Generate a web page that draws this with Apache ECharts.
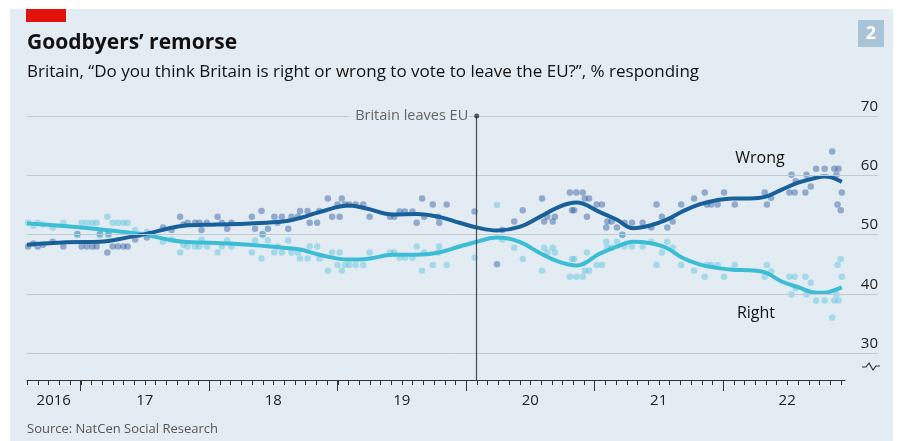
<!DOCTYPE html>
<html><head><meta charset="utf-8">
<script src="https://cdn.jsdelivr.net/npm/echarts@6/dist/echarts.min.js"></script>
<style>
html,body{margin:0;padding:0;background:#fff;}
#wrap{position:relative;width:899px;height:441px;background:#fff;overflow:hidden}
#panel{position:absolute;left:10px;top:9px;width:883px;height:432px;background:#e3ecf3}
#chart{position:absolute;left:0;top:0;width:899px;height:441px}
</style></head><body>
<div id="wrap"><div id="panel"></div><div id="chart"></div></div>
<script>
// x values are months since January 2016 (0 = Jan 2016, 12 = Jan 2017 ...)
const xMin = 7;          // Aug 2016
const xMax = 83.4;       // mid-Dec 2022 (end of tick axis)
const yMin = 25.5;
const yearBoundaries = [12, 24, 36, 48, 60, 72];
const yearLabelPos = [9.5, 18, 30, 42, 54, 66, 78];
const yearLabels = ['2016', '17', '18', '19', '20', '21', '22'];
const yTicks = [30, 40, 50, 60, 70];
const eventMonth = 49.0;  // 31 Jan 2020
const eventLabel = 'Britain leaves EU';

// smoothed trend lines
const trendMonths = [7.0,10.7,13.8,16.3,18.5,20.1,21.6,24.7,27.8,30.9,32.5,34.3,37.1,38.7,41.2,43.4,45.5,47.4,49.0,50.9,53.0,54.9,56.7,58.3,60.5,62.1,63.6,65.1,66.7,68.2,69.8,71.4,72.9,74.5,76.0,77.5,79.1,80.7,81.5,82.2,83.1];
const wrongTrend = [48.3,48.7,48.8,49.5,50.3,51.0,51.5,51.7,51.9,52.2,52.8,53.8,54.9,54.4,53.4,53.5,53.0,52.0,51.2,50.7,51.3,53.0,54.7,55.4,53.8,52.5,51.1,51.5,52.5,53.9,55.1,55.8,56.1,56.1,56.4,57.6,58.8,59.6,59.8,59.6,58.9];
const rightTrend = [51.9,51.4,50.9,50.4,49.8,49.2,48.8,48.6,48.3,47.8,47.5,46.6,45.8,45.9,46.6,46.6,47.0,48.0,48.8,49.5,48.8,46.9,45.4,44.8,46.8,48.0,48.8,48.6,47.8,46.1,45.0,44.4,44.1,44.0,43.6,42.1,41.1,40.2,40.2,40.5,41.1];

// individual polls [month, %]
const wrongPolls = [
[7.1,48.0],[7.6,48.5],[8.0,48.0],[8.5,48.3],[9.4,48.8],[10.4,48.0],[11.7,50.1],[12.1,48.0],[12.6,48.0],[13.1,48.0],[13.5,48.0],[13.8,50.1],[14.5,47.0],[14.6,50.1],[15.0,48.0],[15.5,48.0],[16.0,48.0],[16.4,48.0],[17.1,49.2],[17.5,50.0],[18.2,49.5],[19.7,51.2],[20.5,50.8],[21.3,53.0],[21.6,51.7],
[22.0,52.0],[22.7,52.0],[23.1,52.0],[23.3,50.8],[23.8,52.0],[24.8,53.0],[25.2,52.0],[25.7,51.0],[26.1,52.0],[28.0,53.0],[28.3,51.0],[28.9,54.0],[29.0,50.1],[29.5,51.0],[30.1,53.0],[30.4,52.0],[30.8,53.0],[31.4,51.0],[31.7,53.0],[32.3,53.0],[32.5,54.0],[33.2,54.0],[33.4,52.0],[34.1,52.0],[34.3,54.0],[35.1,56.1],[35.5,53.0],[36.0,55.1],[36.2,53.0],[36.4,56.1],[36.7,55.1],[37.1,55.1],
[37.7,55.1],[38.4,55.1],[39.0,53.0],[40.9,53.0],[41.3,53.0],[41.8,53.9],[42.3,53.9],[43.0,53.9],[43.4,52.0],[43.9,56.1],[44.1,53.0],[44.9,55.1],[45.4,53.0],[45.5,52.0],[46.2,55.1],[48.8,53.9],[50.9,45.0],[51.4,50.8],
[52.5,52.2],[53.3,54.1],[55.1,56.1],[55.3,52.2],[55.6,53.0],[56.1,52.2],[56.3,53.0],[57.7,57.1],[57.9,54.1],[58.1,54.1],[58.3,57.1],[58.9,57.1],[59.1,56.1],[59.3,53.0],[59.5,56.1],[60.2,55.1],[60.7,55.1],[61.1,51.2],[61.2,52.2],[61.6,52.2],[62.1,51.2],[62.6,50.0],[62.8,52.0],[63.5,52.0],[64.5,52.0],[65.3,51.2],[65.8,55.1],[66.3,53.0],[66.8,51.2],[67.3,52.2],[68.1,55.1],
[69.3,56.1],[70.3,57.1],[70.5,55.1],[70.9,55.1],[71.5,55.1],[72.1,57.1],[73.1,55.1],[75.9,57.1],[76.1,55.1],[76.5,56.2],[78.2,57.1],[78.4,60.1],[78.7,57.1],[78.8,59.0],[79.7,57.1],[79.8,60.1],[80.2,58.1],[80.7,61.1],[81.5,61.1],[82.2,64.0],[82.4,61.1],[82.6,60.1],[82.7,55.1],[82.8,61.1],[83.0,54.1],[83.1,57.1]
];
const rightPolls = [
[7.1,52.0],[7.6,51.5],[8.0,52.0],[8.5,51.7],[9.4,51.2],[10.4,52.0],[11.7,49.9],[12.1,52.0],[12.6,52.0],[13.1,52.0],[13.5,52.0],[13.8,49.9],[14.5,53.0],[14.6,49.9],[15.0,52.0],[15.5,52.0],[16.0,52.0],[16.4,52.0],[17.1,50.8],[17.5,50.0],[18.2,50.5],[19.7,48.8],[20.5,49.2],[21.3,47.0],[21.6,48.3],
[22.0,48.0],[22.7,48.0],[23.1,48.0],[23.3,49.2],[23.8,48.0],[24.8,47.0],[25.2,48.0],[25.7,49.0],[26.1,48.0],[28.0,47.0],[28.3,49.0],[28.9,46.0],[29.0,49.9],[29.5,49.0],[30.1,47.0],[30.4,48.0],[30.8,47.0],[31.4,49.0],[31.7,47.0],[32.3,47.0],[32.5,46.0],[33.2,46.0],[33.4,48.0],[34.1,48.0],[34.3,46.0],[35.1,43.9],[35.5,47.0],[36.0,44.9],[36.2,47.0],[36.4,43.9],[36.7,44.9],[37.1,44.9],
[37.7,44.9],[38.4,44.9],[39.0,47.0],[40.9,47.0],[41.3,47.0],[41.8,46.1],[42.3,46.1],[43.0,46.1],[43.4,48.0],[43.9,43.9],[44.1,47.0],[44.9,44.9],[45.4,47.0],[45.5,48.0],[46.2,44.9],[48.8,46.1],[50.9,55.0],[51.4,49.2],
[52.5,47.8],[53.3,45.9],[55.1,43.9],[55.3,47.8],[55.6,47.0],[56.1,47.8],[56.3,47.0],[57.7,42.9],[57.9,45.9],[58.1,45.9],[58.3,42.9],[58.9,42.9],[59.1,43.9],[59.3,47.0],[59.5,43.9],[60.2,44.9],[60.7,44.9],[61.1,48.8],[61.2,47.8],[61.6,47.8],[62.1,48.8],[62.6,50.0],[62.8,48.0],[63.5,48.0],[64.5,48.0],[65.3,48.8],[65.8,44.9],[66.3,47.0],[66.8,48.8],[67.3,47.8],[68.1,44.9],
[69.3,43.9],[70.3,42.9],[70.5,44.9],[70.9,44.9],[71.5,44.9],[72.1,42.9],[73.1,44.9],[75.9,42.9],[76.1,44.9],[76.5,43.8],[78.2,42.9],[78.4,39.9],[78.7,42.9],[78.8,41.0],[79.7,42.9],[79.8,39.9],[80.2,41.9],[80.7,38.9],[81.5,38.9],[82.2,36.0],[82.4,38.9],[82.6,39.9],[82.7,44.9],[82.8,38.9],[83.0,45.9],[83.1,42.9]
];

// monthly tick positions (Aug 2016 ... Dec 2022)
const monthTicks = [];
for (let m = 7; m <= 83; m++) monthTicks.push(m);

const FONT = '"Open Sans", Roboto, sans-serif';
const PANEL = '#e3ecf3';
const DARK = '#17609a';
const LIGHT = '#3bbdd5';

const chart = echarts.init(document.getElementById('chart'), null, {renderer: 'canvas'});
const option = {
  animation: false,
  backgroundColor: 'transparent',
  grid: [
    {left: 27, width: 851, top: 116, height: 264},
    {left: 27, width: 818, top: 116, height: 264}
  ],
  xAxis: [
    {gridIndex: 0, type: 'value', min: xMin, max: 86.48, show: false},
    {gridIndex: 1, type: 'value', min: xMin, max: xMax, position: 'bottom',
      axisLine: {show: true, onZero: false, lineStyle: {color: '#333', width: 1}},
      axisTick: {show: true, customValues: yearBoundaries, length: 11, lineStyle: {color: '#333', width: 1}},
      axisLabel: {show: true, customValues: yearLabelPos, margin: 13, color: '#222', fontSize: 15, fontFamily: FONT,
        formatter: function (v) { const i = yearLabelPos.indexOf(v); return i >= 0 ? yearLabels[i] : ''; }},
      splitLine: {show: false}}
  ],
  yAxis: [
    {gridIndex: 0, type: 'value', min: yMin, max: 70, show: false},
    {gridIndex: 1, type: 'value', min: yMin, max: 70, show: false}
  ],
  series: [
    {type: 'line', xAxisIndex: 0, yAxisIndex: 0, data: [], z: 1, silent: true,
      markLine: {silent: true, symbol: 'none', animation: false,
        lineStyle: {color: '#c2cad1', width: 1, type: 'solid'},
        label: {show: true, position: 'insideEndTop', formatter: '{c}', color: '#222', fontSize: 15, fontFamily: FONT, distance: [0, 2]},
        data: yTicks.map(v => ({yAxis: v})).concat([
          {xAxis: eventMonth, lineStyle: {color: '#4a4a4a', width: 1.2, type: 'solid'}, label: {show: false}}
        ])
      }},
    // monthly minor ticks under the time axis
    {type: 'custom', xAxisIndex: 0, yAxisIndex: 0, data: monthTicks.map(m => [m, yMin]), clip: false, silent: true, z: 6,
      renderItem: function (params, api) {
        const p = api.coord([api.value(0), api.value(1)]);
        const x = Math.round(p[0]) + 0.5, y = Math.round(p[1]);
        return {type: 'line', shape: {x1: x, y1: y, x2: x, y2: y + 5}, style: {stroke: '#333', lineWidth: 1}};
      }},
    {type: 'scatter', name: 'Wrong polls', xAxisIndex: 0, yAxisIndex: 0, data: wrongPolls, symbolSize: 6.5, z: 2, silent: true,
      itemStyle: {color: 'rgba(38,84,158,0.55)'}},
    {type: 'scatter', name: 'Right polls', xAxisIndex: 0, yAxisIndex: 0, data: rightPolls, symbolSize: 6.5, z: 2, silent: true,
      itemStyle: {color: 'rgba(70,190,220,0.5)'}},
    {type: 'line', name: 'Right', xAxisIndex: 0, yAxisIndex: 0, data: trendMonths.map((m, i) => [m, rightTrend[i]]),
      smooth: 0.4, symbol: 'none', z: 3, lineStyle: {color: LIGHT, width: 4}},
    {type: 'line', name: 'Wrong', xAxisIndex: 0, yAxisIndex: 0, data: trendMonths.map((m, i) => [m, wrongTrend[i]]),
      smooth: 0.4, symbol: 'none', z: 4, lineStyle: {color: DARK, width: 4}},
    {type: 'scatter', xAxisIndex: 0, yAxisIndex: 0, data: [[eventMonth, 70]], symbol: 'circle', symbolSize: 5, z: 5, silent: true,
      itemStyle: {color: '#333'},
      label: {show: true, position: 'left', distance: 5, formatter: eventLabel, color: '#444', fontSize: 14.5, fontFamily: FONT,
        backgroundColor: PANEL, padding: [2, 1, 2, 7]}}
  ],
  graphic: [
    {type: 'rect', shape: {x: 26, y: 9, width: 40, height: 13}, style: {fill: '#e3120b'}},
    {type: 'text', style: {x: 27, y: 43, text: 'Goodbyers’ remorse', font: 'bold 21px ' + FONT, fill: '#111', align: 'left', verticalAlign: 'middle'}},
    {type: 'text', style: {x: 27, y: 72, text: 'Britain, “Do you think Britain is right or wrong to vote to leave the EU?”, % responding', font: '17px ' + FONT, fill: '#111', align: 'left', verticalAlign: 'middle'}},
    {type: 'rect', shape: {x: 858, y: 20, width: 26, height: 27}, style: {fill: '#a9c4d6'}},
    {type: 'text', style: {x: 871, y: 34, text: '2', font: 'bold 18px ' + FONT, fill: '#fff', align: 'center', verticalAlign: 'middle'}},
    {type: 'text', style: {x: 760, y: 158, text: 'Wrong', font: '16px ' + FONT, fill: '#111', align: 'center', verticalAlign: 'middle'}},
    {type: 'text', style: {x: 756, y: 313, text: 'Right', font: '16px ' + FONT, fill: '#111', align: 'center', verticalAlign: 'middle'}},
    {type: 'polyline', shape: {points: [[862, 367], [866, 367], [869, 363], [873, 370], [876, 366], [880, 366]]}, style: {stroke: '#333', lineWidth: 1.2, fill: null}},
    {type: 'text', style: {x: 27, y: 429, text: 'Source: NatCen Social Research', font: '13px ' + FONT, fill: '#555', align: 'left', verticalAlign: 'middle'}}
  ]
};
chart.setOption(option);
</script>
</body></html>
